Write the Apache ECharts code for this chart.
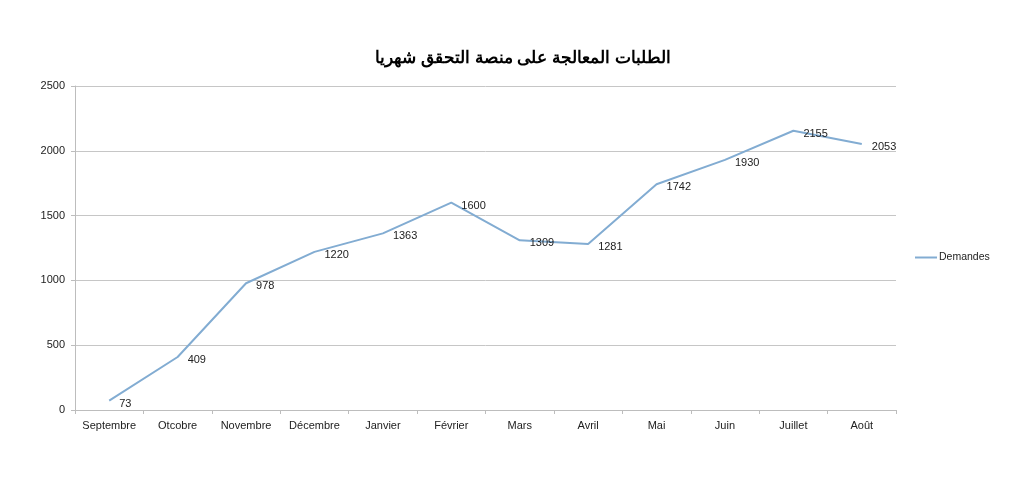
<!DOCTYPE html>
<html>
<head>
<meta charset="utf-8">
<script src="https://cdn.jsdelivr.net/npm/echarts@6/dist/echarts.min.js"></script>
<style>
  html, body { margin: 0; padding: 0; background: #fff; }
  #chart { width: 1024px; height: 484px; }
</style>
</head>
<body>
<div id="chart"></div>
<script>
// données
const months = ['Septembre', 'Otcobre', 'Novembre', 'Décembre', 'Janvier', 'Février',
  'Mars', 'Avril', 'Mai', 'Juin', 'Juillet', 'Août'];
const demandes = [73, 409, 978, 1220, 1363, 1600, 1309, 1281, 1742, 1930, 2155, 2053];
const titleText = 'الطلبات المعالجة على منصة التحقق شهريا';
const seriesName = 'Demandes';

const $chart = echarts.init(document.getElementById('chart'));
const font = 'Liberation Sans, Arial, sans-serif';

$chart.setOption({
  animation: false,
  textStyle: { fontFamily: font },
  title: {
    text: titleText,
    left: 518,
    top: 45,
    textAlign: 'center',
    textStyle: { fontSize: 17, fontWeight: 'bold', color: '#000', fontFamily: font }
  },
  legend: {
    data: [seriesName],
    orient: 'vertical',
    left: 910,
    top: 247,
    itemWidth: 22,
    itemHeight: 2,
    itemGap: 4,
    icon: 'rect',
    textStyle: { fontSize: 10.5, color: '#222', padding: [0, 0, 0, -3] }
  },
  grid: { left: 75, right: 128, top: 86, bottom: 74, containLabel: false },
  xAxis: {
    type: 'category',
    data: months,
    boundaryGap: true,
    axisLine: { lineStyle: { color: '#bdbdbd', width: 1 } },
    axisTick: { show: true, length: 4, interval: 0, lineStyle: { color: '#bdbdbd' } },
    axisLabel: { fontSize: 11, color: '#222', margin: 10, interval: 0 }
  },
  yAxis: {
    type: 'value',
    min: 0,
    max: 2500,
    interval: 500,
    axisLine: { show: true, lineStyle: { color: '#bdbdbd', width: 1 } },
    axisTick: { show: true, length: 4, lineStyle: { color: '#bdbdbd' } },
    axisLabel: { fontSize: 11, color: '#222', margin: 10, formatter: v => String(v) },
    splitLine: { lineStyle: { color: '#c6c6c6', width: 1 } }
  },
  series: [{
    name: seriesName,
    type: 'line',
    data: demandes,
    showSymbol: true,
    symbol: 'circle',
    symbolSize: 0,
    color: '#82acd2',
    lineStyle: { width: 2, color: '#82acd2' },
    label: {
      show: true,
      position: 'right',
      distance: 10,
      offset: [0, 3],
      fontSize: 11,
      color: '#222',
      formatter: p => String(p.value)
    }
  }]
});
</script>
</body>
</html>
